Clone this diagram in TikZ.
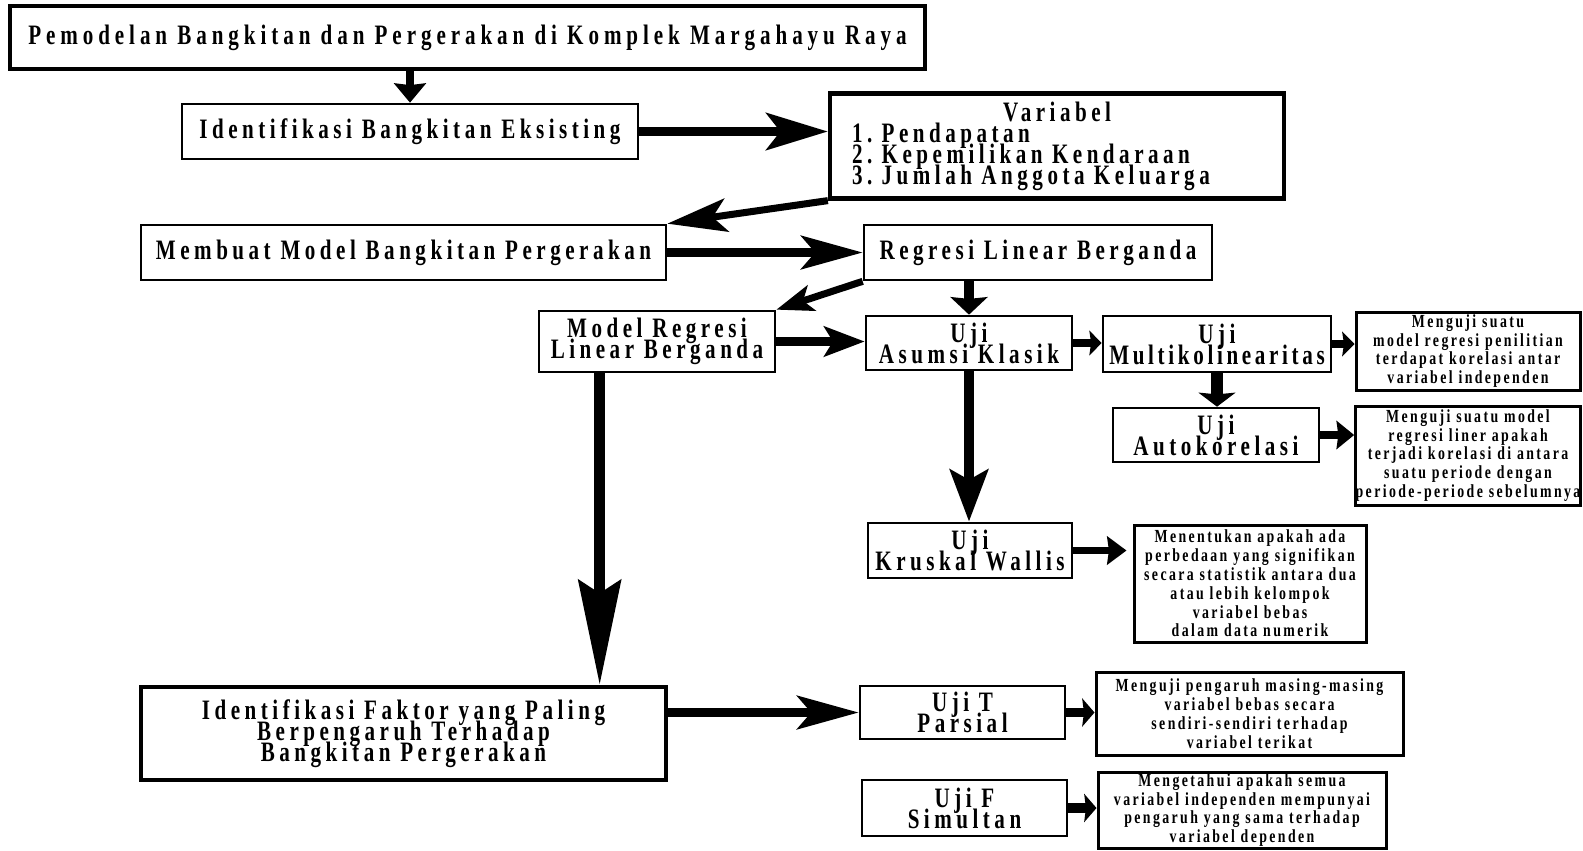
\documentclass[tikz,border=0pt]{standalone}
\usepackage{fontspec}
\usetikzlibrary{arrows.meta}
\newfontfamily\flowfont[FakeStretch=0.75,LetterSpace=16]{Liberation Serif}
\newfontfamily\notefont[FakeStretch=0.75,LetterSpace=13]{Liberation Serif}
\newcommand{\bigtxt}{\flowfont\bfseries\frenchspacing\fontsize{16}{12}\selectfont\lineskiplimit=-20pt}
\newcommand{\smalltxt}{\notefont\bfseries\frenchspacing\fontsize{10.5}{10.7}\selectfont\lineskiplimit=-20pt}
\tikzset{
  box/.style={draw, line width=1.5pt, inner sep=0pt, align=center, font=\bigtxt},
  heavybox/.style={box, line width=2.4pt},
  notebox/.style={draw, line width=1.7pt, inner sep=0pt, align=center, font=\smalltxt},
  sz/.style 2 args={minimum width=#1*0.02cm, minimum height=#2*0.02cm},
  flow/.style n args={4}{line width=#1, -{Stealth[length=#2, width=#3, inset=#4]}},
}
\begin{document}
\begin{tikzpicture}[x=0.02cm, y=-0.02cm]
      \useasboundingbox (0,0) rectangle (1583,850);
      \node[heavybox, sz={915}{63}] (title) at (467.5,37.5)
        {\addfontfeature{LetterSpace=17.5}Pemodelan Bangkitan dan Pergerakan di Komplek Margahayu Raya};
      \node[box, sz={456}{55}] (ident) at (410,131.5) {Identifikasi Bangkitan Eksisting};
      \node[heavybox, sz={454}{105}, align=left, text width=410*0.02cm] (var) at (1057,146)
        {\hspace*{\fill}Variabel\hspace*{\fill}\null\\1. Pendapatan\\2. Kepemilikan Kendaraan\\3. Jumlah Anggota Keluarga};
      \node[box, sz={525}{55}] (membuat) at (403.5,252.5) {Membuat Model Bangkitan Pergerakan};
      \node[box, sz={348}{55}] (regresi) at (1038,252.5) {Regresi Linear Berganda};
      \node[box, sz={236}{61}] (model) at (657,341.5) {Model Regresi\\Linear Berganda};
      \node[box, sz={206}{54}] (asumsi) at (969,343) {Uji\\Asumsi Klasik};
      \node[box, sz={228}{56}] (multi) at (1217,344) {Uji\\\addfontfeature{LetterSpace=13}Multikolinearitas};
      \node[notebox, sz={224}{78}] (dmulti) at (1468,351)
        {Menguji suatu\\model regresi penilitian\\terdapat korelasi antar\\variabel independen};
      \node[box, sz={206}{54}] (auto) at (1216,435) {Uji\\Autokorelasi};
      \node[notebox, sz={224}{99}] (dauto) at (1468,455.5)
        {Menguji suatu model\\regresi liner apakah\\terjadi korelasi di antara\\suatu periode dengan\\periode-periode sebelumnya};
      \node[box, sz={204}{55}] (kruskal) at (970,550.5) {Uji\\Kruskal Wallis};
      \node[notebox, sz={232}{117}] (dkruskal) at (1250,583.5)
        {Menentukan apakah ada\\perbedaan yang signifikan\\secara statistik antara dua\\atau lebih kelompok\\variabel bebas\\dalam data numerik};
      \node[heavybox, sz={525}{93}] (faktor) at (403.5,733.5)
        {Identifikasi Faktor yang Paling\\Berpengaruh Terhadap\\Bangkitan Pergerakan};
      \node[box, sz={205}{53}] (ujit) at (962.5,712.5) {Uji T\\Parsial};
      \node[notebox, sz={307}{83}] (dujit) at (1249.5,713.5)
        {Menguji pengaruh masing-masing\\variabel bebas secara\\sendiri-sendiri terhadap\\variabel terikat};
      \node[box, sz={205}{56}] (ujif) at (964.5,808) {Uji F\\Simultan};
      \node[notebox, sz={288}{76}] (dujif) at (1242,810)
        {Mengetahui apakah semua\\variabel independen mempunyai\\pengaruh yang sama terhadap\\variabel dependen};
      \begin{scope}
        \draw[flow={5pt}{11pt}{18pt}{1pt}] (ident.north |- title.south) -- (ident.north);
        \draw[flow={5.5pt}{35pt}{21pt}{8pt}] (ident.east) -- (ident.east -| var.west);
        \draw[flow={4pt}{34pt}{19pt}{8pt}] (var.south west) -- (membuat.north east);
        \draw[flow={5pt}{35pt}{19pt}{8pt}] (membuat.east) -- (regresi.west);
        \draw[flow={4pt}{21pt}{15pt}{5pt}] (regresi.south west) -- (model.north east);
        \draw[flow={6pt}{10pt}{21pt}{1pt}] (asumsi.north |- regresi.south) -- (asumsi.north);
        \draw[flow={5pt}{23pt}{17pt}{5pt}] (model.east) -- (model.east -| asumsi.west);
        \draw[flow={4pt}{7pt}{14pt}{1pt}] (asumsi.east) -- (asumsi.east -| multi.west);
        \draw[flow={4pt}{7pt}{14pt}{1pt}] (multi.east) -- (multi.east -| dmulti.west);
        \draw[flow={6.5pt}{8pt}{21pt}{1pt}] (multi.south) -- (multi.south |- auto.north);
        \draw[flow={4.5pt}{10pt}{16pt}{1pt}] (auto.east) -- (auto.east -| dauto.west);
        \draw[flow={5.7pt}{29.5pt}{21.5pt}{5.7pt}] (asumsi.south) -- (asumsi.south |- kruskal.north);
        \draw[flow={4.5pt}{11pt}{16pt}{1pt}] (kruskal.east) -- ([xshift=-0.12cm]kruskal.east -| dkruskal.west);
        \draw[flow={6.2pt}{59.5pt}{24pt}{7.4pt}] ([xshift=1.24cm]model.south west) -- ([xshift=1.24cm]model.south west |- faktor.north);
        \draw[flow={5pt}{35pt}{19pt}{8pt}] (ujit.west -| faktor.east) -- (ujit.west);
        \draw[flow={5.5pt}{7pt}{16pt}{1pt}] (ujit.east) -- (ujit.east -| dujit.west);
        \draw[flow={5.5pt}{7pt}{16pt}{1pt}] (ujif.east) -- (ujif.east -| dujif.west);
      \end{scope}
    \end{tikzpicture}
\end{document}
